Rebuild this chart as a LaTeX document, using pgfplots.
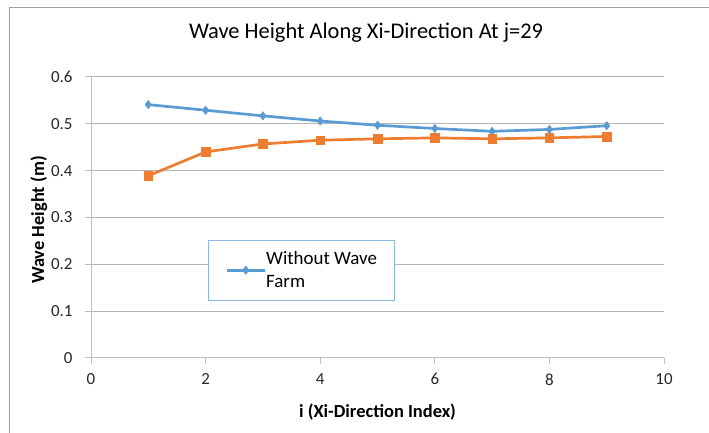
\documentclass[border=0pt]{standalone}
\usepackage{fontspec}
\setmainfont{Carlito}
\usepackage{pgfplots}
\pgfplotsset{compat=1.18}
\definecolor{cblue}{HTML}{5B9BD5}
\definecolor{corange}{HTML}{ED7D31}
\definecolor{gridc}{HTML}{B5B5B5}
\definecolor{axc}{HTML}{BFBFBF}
\begin{document}
\begin{tikzpicture}[x=1bp,y=1bp]
\useasboundingbox (0,0) rectangle (709,433);
\draw[color=gray!75, line width=0.8bp] (9.5,0) -- (9.5,426) -- (709,426);
\begin{axis}[
  at={(91bp,75bp)}, anchor=south west,
  scale only axis, width=573bp, height=281bp,
  xmin=0, xmax=10, ymin=0, ymax=0.6,
  xtick={0,2,4,6,8,10},
  ytick={0,0.1,0.2,0.3,0.4,0.5,0.6},
  axis x line=bottom, axis y line=left,
  axis line style={-, color=axc, line width=1bp},
  tick align=outside, major tick length=6bp,
  tick style={color=axc, line width=1bp},
  ymajorgrids, grid style={color=gridc, line width=1bp},
  /pgf/number format/assume math mode=true,
  /pgf/number format/.cd, fixed, precision=1,
  /pgfplots/.cd,
  ticklabel style={font=\fontsize{17}{20}\selectfont, color=black!85},
  xticklabel style={yshift=-6bp},
  yticklabel style={xshift=-9bp},
  title={Wave Height Along Xi-Direction At j=29},
  title style={font=\fontsize{22.5}{26}\selectfont, at={(axis description cs:0.48,1.117)}, anchor=base},
  xlabel={i (Xi-Direction Index)},
  xlabel style={font=\fontsize{18.5}{22}\selectfont\bfseries, at={(axis description cs:0.5,-0.2135)}, anchor=base},
  ylabel={Wave Height (m)},
  ylabel style={font=\fontsize{18.5}{22}\selectfont\bfseries, at={(axis description cs:-0.082,0.491)}, anchor=base, rotate=0},
  legend style={at={(axis description cs:0.2042,0.42)}, anchor=north west,
    draw=cblue!70, line width=0.8bp, fill=white,
    font=\fontsize{19}{24}\selectfont,
    inner xsep=17bp, inner ysep=10.5bp,
    nodes={inner sep=0pt},
    /tikz/every even column/.append style={column sep=4bp},
    cells={align=left, anchor=west}},
  legend image code/.code={%
    \draw[line width=2.8bp, mark repeat=2, mark phase=2] plot coordinates {(0bp,0bp) (19bp,0bp) (38bp,0bp)};},
]
\addplot[color=cblue, line width=2.7bp, mark=diamond*, mark size=4.2bp, mark options={fill=cblue, line width=0.5bp}]
  coordinates {(1,0.541) (2,0.529) (3,0.517) (4,0.506) (5,0.497) (6,0.490) (7,0.484) (8,0.488) (9,0.496)};
\addlegendentry{Without Wave\\Farm}
\addplot[color=corange, line width=2.7bp, mark=square*, mark size=4.3bp, mark options={fill=corange, line width=0.5bp}, forget plot]
  coordinates {(1,0.389) (2,0.440) (3,0.457) (4,0.465) (5,0.468) (6,0.470) (7,0.468) (8,0.470) (9,0.473)};
\end{axis}
\end{tikzpicture}
\end{document}
